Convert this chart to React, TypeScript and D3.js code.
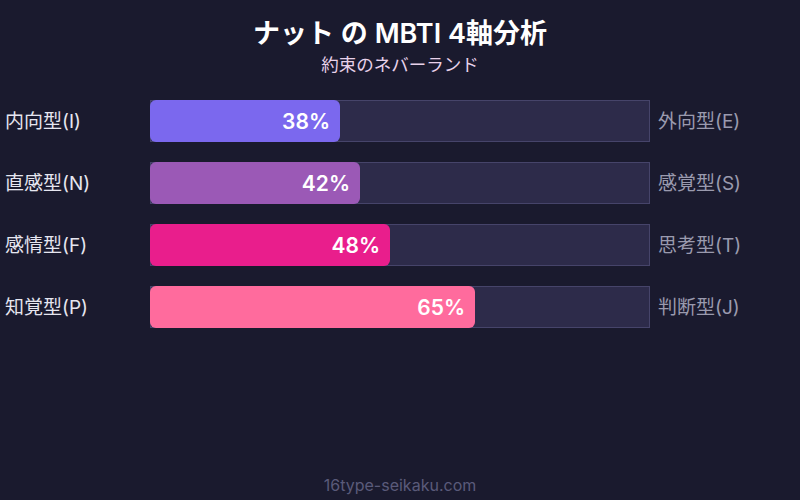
import React from "react";
import { scaleLinear, scaleBand } from "d3";

const leftLabels = ["内向型(I)", "直感型(N)", "感情型(F)", "知覚型(P)"];
const rightLabels = ["外向型(E)", "感覚型(S)", "思考型(T)", "判断型(J)"];
const values = [38, 42, 48, 65];
const barColors = ["#7b68ee", "#9b59b6", "#e91e8c", "#ff6b9d"];

const W = 800;
const H = 500;
const FONT = "Inter, 'Noto Sans CJK JP', sans-serif";

const App: React.FC = () => {
  const x = scaleLinear().domain([0, 100]).range([150, 650]);
  // rows: 42px bars every 62px, first at y=100
  const y = scaleBand<number>()
    .domain(values.map((_, i) => i))
    .range([100, 328])
    .paddingInner(20 / 62)
    .paddingOuter(0);
  const bh = y.bandwidth();

  return (
    <svg
      width={W}
      height={H}
      style={{ position: "absolute", left: 0, top: 0, display: "block" }}
      fontFamily={FONT}
    >
      <rect width={W} height={H} fill="#1a1a2e" />
      <text x={W / 2} y={43} textAnchor="middle" fill="#ffffff" fontSize={27} fontWeight={600}>
        ナット の MBTI 4軸分析
      </text>
      <text x={W / 2} y={71} textAnchor="middle" fill="#e8d2ea" fontSize={17.5}>
        約束のネバーランド
      </text>
      {values.map((v, i) => {
        const y0 = y(i)!;
        return (
          <g key={i}>
            <rect
              x={x(0) + 0.5}
              y={y0 + 0.5}
              width={x(100) - x(0) - 1}
              height={bh - 1}
              fill="#2d2b4a"
              stroke="#46446a"
              strokeWidth={1}
            />
            <rect x={x(0)} y={y0} width={x(v) - x(0)} height={bh} rx={6} fill={barColors[i]} />
            <text
              x={x(v) - 10}
              y={y0 + bh / 2}
              dy="0.36em"
              textAnchor="end"
              fill="#ffffff"
              fontSize={21}
              fontWeight={600}
            >
              {v}%
            </text>
            <text x={5} y={y0 + bh / 2} dy="0.36em" fill="#e6e6f0" fontSize={19}>
              {leftLabels[i]}
            </text>
            <text x={658} y={y0 + bh / 2} dy="0.36em" fill="#9a9aae" fontSize={19}>
              {rightLabels[i]}
            </text>
          </g>
        );
      })}
      <text x={W / 2} y={491} textAnchor="middle" fill="#5a5a7a" fontSize={16}>
        16type-seikaku.com
      </text>
    </svg>
  );
};

export default App;
